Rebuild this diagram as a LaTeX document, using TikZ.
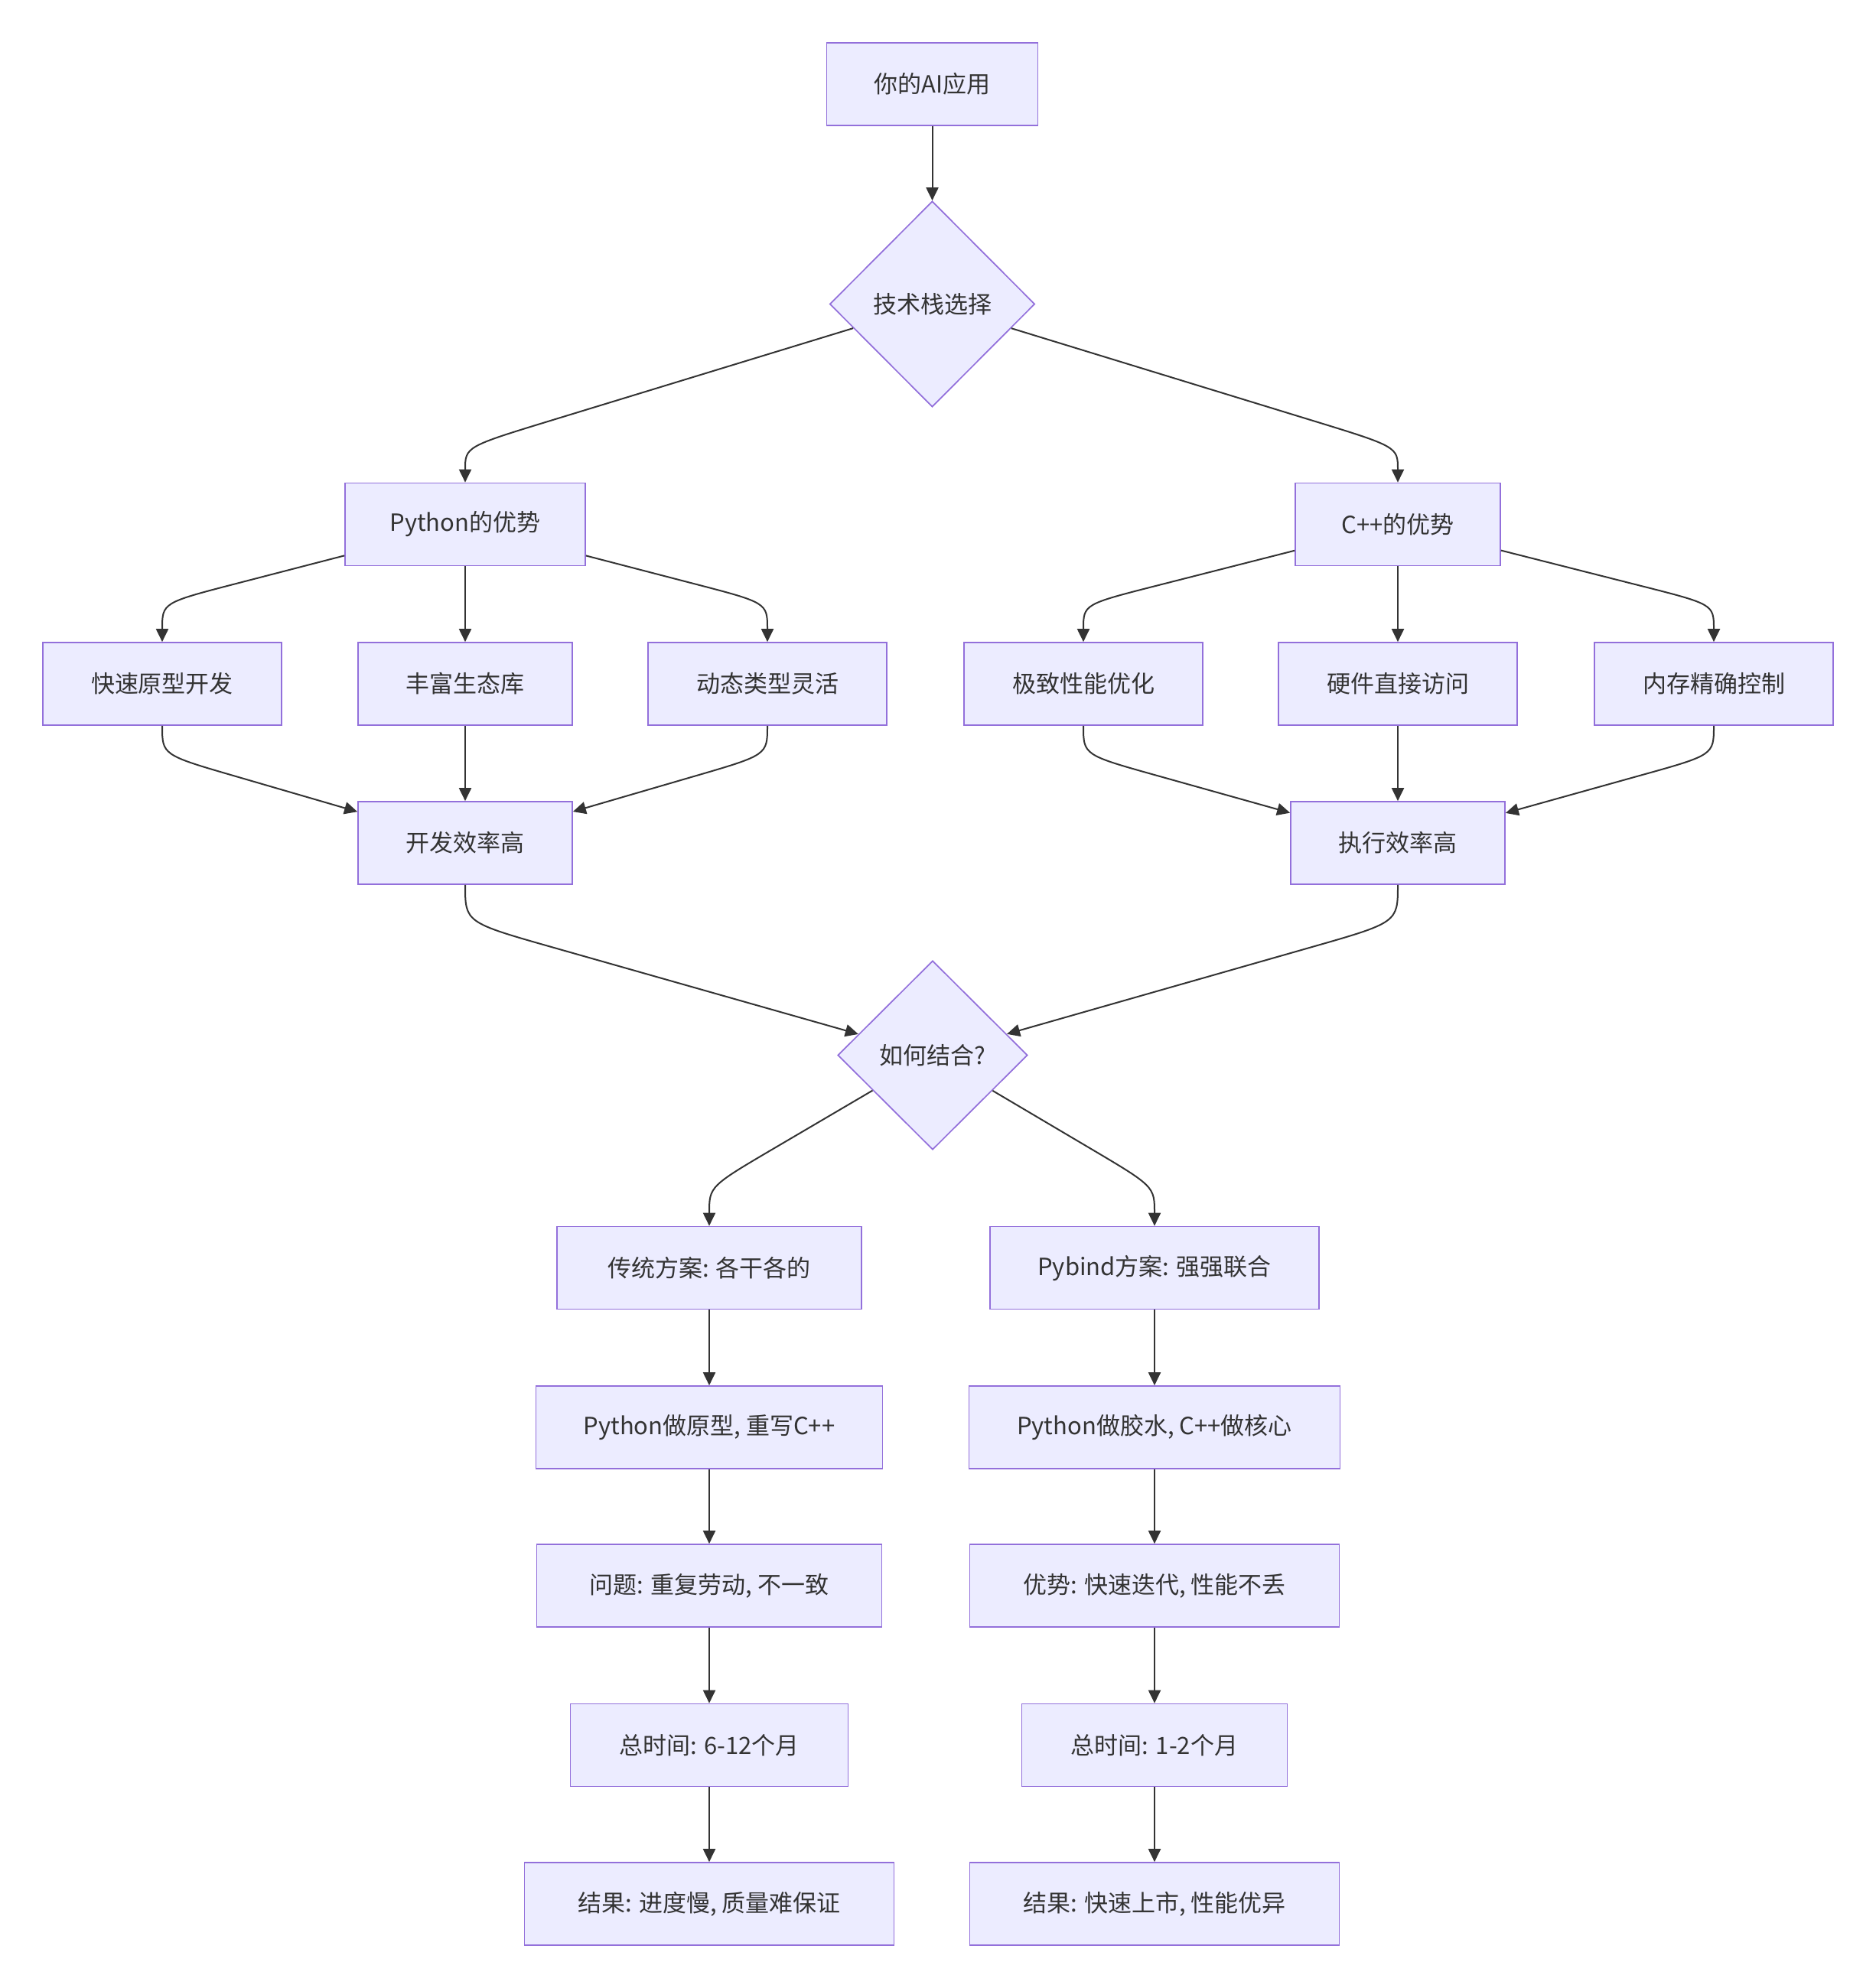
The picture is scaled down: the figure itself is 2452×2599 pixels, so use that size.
\documentclass[tikz,border=0pt]{standalone}
\usepackage{fontspec}
\setmainfont{Noto Sans CJK SC}
\usetikzlibrary{shapes.geometric,arrows.meta,calc}
\definecolor{nodefill}{HTML}{ECECFF}
\definecolor{nodeline}{HTML}{9370DB}
\definecolor{ink}{HTML}{333333}
\begin{document}
\begin{tikzpicture}[x=0.5pt,y=-0.5pt,
  box/.style={rectangle, draw=nodeline, fill=nodefill, line width=0.85pt, minimum height=54pt, inner sep=0pt, text=ink, font=\fontsize{15.5pt}{18pt}\selectfont},
  dia/.style={diamond, aspect=1, draw=nodeline, fill=nodefill, line width=0.85pt, inner sep=0pt, text=ink, font=\fontsize{15.5pt}{18pt}\selectfont},
  conn/.style={draw=ink, line width=1pt, -{Triangle[length=8.5pt,width=8pt]}}]
\useasboundingbox (0,0) rectangle (2452,2599);
\fill[white] (0,0) rectangle (2452,2599);
% nodes
\node[box, minimum width=138pt] (ai) at (1218.5,110) {你的AI应用};
\node[dia, minimum width=134pt, minimum height=134.5pt] (tech) at (1218.5,397.5) {技术栈选择};
\node[box, minimum width=157pt] (py) at (608,685.5) {Python的优势};
\node[box, minimum width=134pt] (cpp) at (1827,685.5) {C++的优势};
\node[box, minimum width=156pt] (quick) at (212,894) {快速原型开发};
\node[box, minimum width=140pt] (rich) at (608,894) {丰富生态库};
\node[box, minimum width=156pt] (dyn) at (1003,894) {动态类型灵活};
\node[box, minimum width=156pt] (perf) at (1416,894) {极致性能优化};
\node[box, minimum width=156pt] (hw) at (1827,894) {硬件直接访问};
\node[box, minimum width=156pt] (mem) at (2240,894) {内存精确控制};
\node[box, minimum width=140pt] (dev) at (608,1102) {开发效率高};
\node[box, minimum width=140pt] (exe) at (1827,1102) {执行效率高};
\node[dia, minimum width=124pt, minimum height=123.5pt] (how) at (1219,1379.5) {如何结合?};
\node[box, minimum width=199pt] (trad) at (927,1657.5) {传统方案: 各干各的};
\node[box, minimum width=215pt] (pyb) at (1509,1657.5) {Pybind方案: 强强联合};
\node[box, minimum width=226.5pt] (proto) at (927,1866) {Python做原型, 重写C++};
\node[box, minimum width=242.5pt] (glue) at (1509,1866) {Python做胶水, C++做核心};
\node[box, minimum width=225.5pt] (prob) at (927,2073) {问题: 重复劳动, 不一致};
\node[box, minimum width=241.5pt] (adv) at (1509,2073) {优势: 快速迭代, 性能不丢};
\node[box, minimum width=181.5pt] (tA) at (927,2281.5) {总时间: 6-12个月};
\node[box, minimum width=173.5pt] (tB) at (1509,2281.5) {总时间: 1-2个月};
\node[box, minimum width=241.5pt] (resA) at (927,2489) {结果: 进度慢, 质量难保证};
\node[box, minimum width=241.5pt] (resB) at (1509,2489) {结果: 快速上市, 性能优异};
% knees
\coordinate (kpy) at (608,584);
\coordinate (kcpp) at (1827,584);
\coordinate (kquick) at (212,788);
\coordinate (kdyn) at (1003,788);
\coordinate (kperf) at (1416,790);
\coordinate (kmem) at (2240,790);
\coordinate (kq2) at (212,987);
\coordinate (kd2) at (1003,987);
\coordinate (kp2) at (1416,987);
\coordinate (km2) at (2240,987);
\coordinate (kdev) at (608,1206);
\coordinate (kexe) at (1827,1206);
\coordinate (ktrad) at (927,1551);
\coordinate (kpyb) at (1509,1551);
% edges
\draw[conn] (ai) -- (tech);
\draw[conn] (tech) -- ($(kpy)!60pt!(tech)$) .. controls (kpy) .. (py.north);
\draw[conn] (tech) -- ($(kcpp)!60pt!(tech)$) .. controls (kcpp) .. (cpp.north);
\draw[conn] (py) -- ($(kquick)!50pt!(py)$) .. controls (kquick) .. (quick.north);
\draw[conn] (py) -- (rich);
\draw[conn] (py) -- ($(kdyn)!50pt!(py)$) .. controls (kdyn) .. (dyn.north);
\draw[conn] (cpp) -- ($(kperf)!50pt!(cpp)$) .. controls (kperf) .. (perf.north);
\draw[conn] (cpp) -- (hw);
\draw[conn] (cpp) -- ($(kmem)!50pt!(cpp)$) .. controls (kmem) .. (mem.north);
\draw[conn] (quick.south) .. controls (kq2) .. ($(kq2)!50pt!(dev)$) -- (dev);
\draw[conn] (rich) -- (dev);
\draw[conn] (dyn.south) .. controls (kd2) .. ($(kd2)!50pt!(dev)$) -- (dev);
\draw[conn] (perf.south) .. controls (kp2) .. ($(kp2)!50pt!(exe)$) -- (exe);
\draw[conn] (hw) -- (exe);
\draw[conn] (mem.south) .. controls (km2) .. ($(km2)!50pt!(exe)$) -- (exe);
\draw[conn] (dev.south) .. controls (kdev) .. ($(kdev)!60pt!(how)$) -- (how);
\draw[conn] (exe.south) .. controls (kexe) .. ($(kexe)!60pt!(how)$) -- (how);
\draw[conn] (how) -- ($(ktrad)!50pt!(how)$) .. controls (ktrad) .. (trad.north);
\draw[conn] (how) -- ($(kpyb)!50pt!(how)$) .. controls (kpyb) .. (pyb.north);
\draw[conn] (trad) -- (proto);
\draw[conn] (proto) -- (prob);
\draw[conn] (prob) -- (tA);
\draw[conn] (tA) -- (resA);
\draw[conn] (pyb) -- (glue);
\draw[conn] (glue) -- (adv);
\draw[conn] (adv) -- (tB);
\draw[conn] (tB) -- (resB);
\end{tikzpicture}
\end{document}
